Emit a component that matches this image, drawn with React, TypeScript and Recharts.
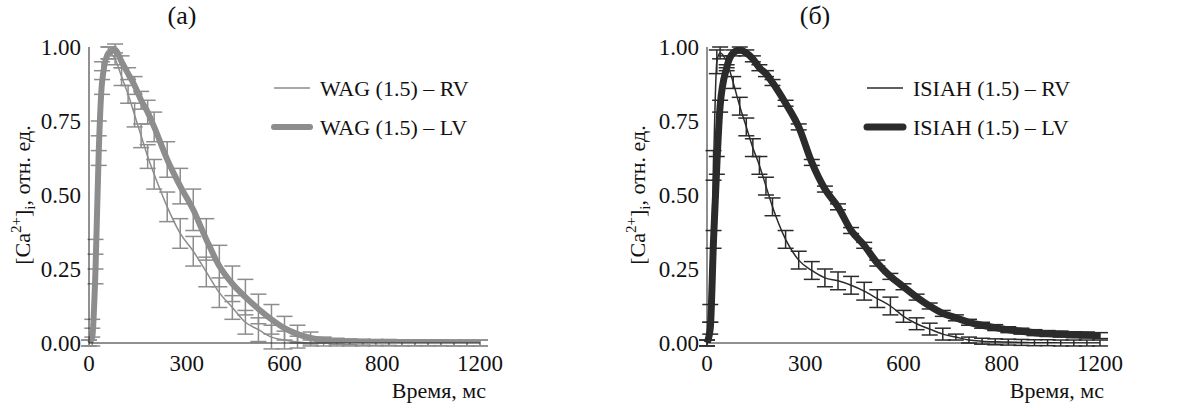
import React from "react"
import { LineChart, Line, XAxis, YAxis, ErrorBar } from "recharts"

const times = [0, 10, 20, 30, 40, 60, 80, 100, 120, 140, 160, 180, 200, 240, 280, 320, 360, 400, 440, 480, 520, 560, 600, 640, 680, 720, 760, 800, 840, 880, 920, 960, 1000, 1040, 1080, 1120, 1160, 1200]

const wagRV = [0, 0.05, 0.3, 0.7, 0.92, 0.98, 0.96, 0.9, 0.84, 0.77, 0.7, 0.63, 0.57, 0.46, 0.37, 0.31, 0.24, 0.17, 0.12, 0.07, 0.045, 0.02, 0.01, 0.003, 0, 0, 0, 0, 0, 0, 0, 0, 0, 0, 0, 0, 0, 0]
const wagRVErr = [0.01, 0.03, 0.05, 0.05, 0.03, 0.02, 0.02, 0.03, 0.03, 0.04, 0.04, 0.04, 0.05, 0.05, 0.05, 0.05, 0.05, 0.05, 0.04, 0.04, 0.04, 0.04, 0.03, 0.02, 0.01, 0.01, 0.01, 0.01, 0.01, 0.01, 0.01, 0.01, 0.01, 0.01, 0.01, 0.01, 0.01, 0.01]
const wagLV = [0, 0.02, 0.25, 0.65, 0.88, 0.98, 0.99, 0.95, 0.91, 0.87, 0.82, 0.78, 0.73, 0.62, 0.53, 0.45, 0.35, 0.26, 0.2, 0.155, 0.115, 0.08, 0.05, 0.03, 0.017, 0.01, 0.006, 0.004, 0.003, 0.002, 0.002, 0.001, 0.001, 0.001, 0.001, 0, 0, 0]
const wagLVErr = [0.01, 0.03, 0.05, 0.05, 0.04, 0.02, 0.02, 0.02, 0.02, 0.03, 0.03, 0.04, 0.05, 0.06, 0.06, 0.07, 0.07, 0.07, 0.06, 0.06, 0.05, 0.05, 0.04, 0.03, 0.02, 0.01, 0.01, 0.01, 0.01, 0.01, 0.01, 0.01, 0.01, 0.01, 0.01, 0.01, 0.01, 0.01]

const isiahRV = [0, 0.1, 0.6, 0.95, 0.98, 0.95, 0.88, 0.8, 0.73, 0.66, 0.6, 0.53, 0.46, 0.35, 0.28, 0.245, 0.22, 0.21, 0.195, 0.175, 0.15, 0.125, 0.09, 0.065, 0.047, 0.03, 0.02, 0.01, 0.006, 0.004, 0.003, 0.002, 0.001, 0.001, 0, 0, 0, 0]
const isiahRVErr = [0.01, 0.03, 0.05, 0.04, 0.02, 0.02, 0.02, 0.03, 0.03, 0.03, 0.03, 0.03, 0.03, 0.03, 0.03, 0.03, 0.03, 0.03, 0.03, 0.03, 0.03, 0.03, 0.02, 0.02, 0.02, 0.02, 0.01, 0.01, 0.01, 0.01, 0.01, 0.01, 0.01, 0.01, 0.01, 0.01, 0.01, 0.01]
const isiahLV = [0, 0.05, 0.35, 0.6, 0.8, 0.93, 0.98, 0.99, 0.98, 0.96, 0.93, 0.91, 0.88, 0.81, 0.73, 0.61, 0.52, 0.46, 0.38, 0.33, 0.27, 0.225, 0.19, 0.155, 0.125, 0.1, 0.085, 0.07, 0.06, 0.052, 0.045, 0.04, 0.035, 0.032, 0.03, 0.028, 0.027, 0.025]
const isiahLVErr = [0.01, 0.02, 0.03, 0.03, 0.02, 0.01, 0.01, 0.01, 0.01, 0.01, 0.01, 0.01, 0.01, 0.01, 0.01, 0.01, 0.01, 0.01, 0.01, 0.01, 0.01, 0.01, 0.01, 0.01, 0.01, 0.01, 0.01, 0.01, 0.01, 0.01, 0.01, 0.01, 0.01, 0.01, 0.01, 0.01, 0.01, 0.01]

const xTicks = [0, 300, 600, 900, 1200]
const xTickLabels = ["0", "300", "600", "800", "1200"]
const yTicks = [0, 0.25, 0.5, 0.75, 1]

const FONT = "Liberation Serif"

const wagData = times.map((t, i) => ({ t, rv: wagRV[i], rvErr: wagRVErr[i], lv: wagLV[i], lvErr: wagLVErr[i] }))
const isiahData = times.map((t, i) => ({ t, rv: isiahRV[i], rvErr: isiahRVErr[i], lv: isiahLV[i], lvErr: isiahLVErr[i] }))

function YLabel({ x }: { x: number }) {
  return (
    <text transform={`translate(${x},195) rotate(-90)`} textAnchor="middle" style={{ fontFamily: FONT, fontSize: 22 }} fill="#111">
      [Ca<tspan dy={-9} style={{ fontSize: 15 }}>2+</tspan><tspan dy={9}>]</tspan>
      <tspan dy={5} style={{ fontSize: 15 }}>i</tspan>
      <tspan dy={-5}>, отн. ед.</tspan>
    </text>
  )
}

function Panel({ data, color, title, names, ml, mr, labelX, titleX, legendX, thick }: any) {
  const tickStyle = { fill: "#111", fontSize: 23, fontFamily: FONT }
  return (
    <div style={{ position: "relative", width: 597, height: 407, fontFamily: FONT }}>
      <LineChart width={597} height={407} data={data} margin={{ top: 47, right: mr, left: 0, bottom: 0 }}>
        <XAxis
          dataKey="t"
          type="number"
          domain={[0, 1200]}
          ticks={xTicks}
          tickFormatter={(v: number) => xTickLabels[xTicks.indexOf(v)]}
          tick={tickStyle}
          axisLine={{ stroke: "#222" }}
          tickLine={false}
          height={64}
          tickMargin={6}
        />
        <YAxis
          domain={[0, 1]}
          ticks={yTicks}
          tickFormatter={(v: number) => v.toFixed(2)}
          tick={tickStyle}
          axisLine={{ stroke: "#222" }}
          tickLine={false}
          width={ml}
          tickMargin={2}
          allowDataOverflow
        />
        <Line type="monotone" dataKey="lv" stroke={color} strokeWidth={thick} dot={false} isAnimationActive={false}>
          <ErrorBar dataKey="lvErr" width={8} stroke={color} strokeWidth={1.5} />
        </Line>
        <Line type="monotone" dataKey="rv" stroke={color} strokeWidth={1.5} dot={false} isAnimationActive={false}>
          <ErrorBar dataKey="rvErr" width={8} stroke={color} strokeWidth={1.5} />
        </Line>
      </LineChart>
      <svg width={597} height={407} style={{ position: "absolute", left: 0, top: 0, pointerEvents: "none", fontFamily: FONT }}>
        <YLabel x={labelX} />
        <text x={titleX} y={24} textAnchor="middle" style={{ fontSize: 26 }} fill="#111">{title}</text>
        <text x={ml + 397} y={398} textAnchor="end" style={{ fontSize: 22 }} fill="#111">Время, мс</text>
        <line x1={legendX} x2={legendX + 36} y1={88} y2={88} stroke={color} strokeWidth={1.5} />
        <line x1={legendX} x2={legendX + 36} y1={127} y2={127} stroke={color} strokeWidth={thick} strokeLinecap="round" />
        <text x={legendX + 46} y={96} style={{ fontSize: 22 }} fill="#111">{names[0]}</text>
        <text x={legendX + 46} y={135} style={{ fontSize: 22 }} fill="#111">{names[1]}</text>
      </svg>
    </div>
  )
}

export default function App() {
  return (
    <div style={{ position: "absolute", left: 0, top: 0, width: 1194, height: 407, background: "#fff", display: "flex" }}>
      <Panel data={wagData} color="#8d8d8d" title="(a)" names={["WAG (1.5) – RV", "WAG (1.5) – LV"]}
        ml={89} mr={117} labelX={30} titleX={182} legendX={274} thick={6} />
      <Panel data={isiahData} color="#2b2b2b" title="(б)" names={["ISIAH (1.5) – RV", "ISIAH (1.5) – LV"]}
        ml={110} mr={94} labelX={48} titleX={218} legendX={270} thick={7} />
    </div>
  )
}
